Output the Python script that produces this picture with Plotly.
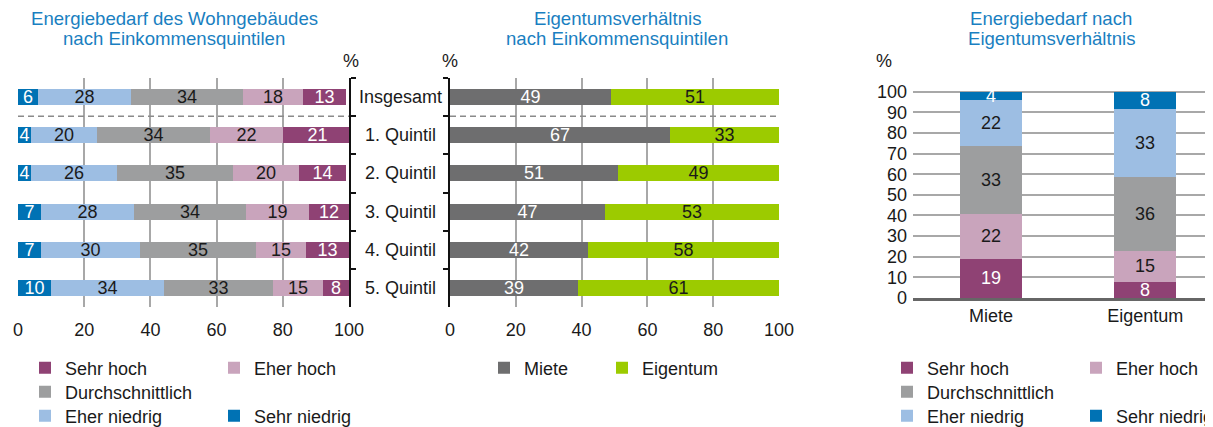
import plotly.graph_objects as go

# page has an 8px body margin, so the figure is drawn 8px in from the window edge
OFF = 8
W, H = 1213 - OFF, 427 - OFF

# ---- data ----
groups = ["Insgesamt", "1. Quintil", "2. Quintil", "3. Quintil", "4. Quintil", "5. Quintil"]
sehr_niedrig = [6, 4, 4, 7, 7, 10]
eher_niedrig = [28, 20, 26, 28, 30, 34]
durchschnitt = [34, 34, 35, 34, 35, 33]
eher_hoch = [18, 22, 20, 19, 15, 15]
sehr_hoch = [13, 21, 14, 12, 13, 8]

miete = [49, 67, 51, 47, 42, 39]
eigentum = [51, 33, 49, 53, 58, 61]

tenure = ["Miete", "Eigentum"]
t_sehr_hoch = [19, 8]
t_eher_hoch = [22, 15]
t_durchschnitt = [33, 36]
t_eher_niedrig = [22, 33]
t_sehr_niedrig = [4, 8]

x_ticks = [0, 20, 40, 60, 80, 100]
y_ticks = [0, 10, 20, 30, 40, 50, 60, 70, 80, 90, 100]

# ---- styles ----
FONT = "Liberation Sans, Arial, sans-serif"
FS = 18
TITLE_COLOR = "#1a7fc1"
COL = {
    "Sehr hoch": "#8f4274",
    "Eher hoch": "#c9a4bc",
    "Durchschnittlich": "#9d9e9f",
    "Eher niedrig": "#9dbee3",
    "Sehr niedrig": "#0072b4",
    "Miete": "#6e6e6f",
    "Eigentum": "#9ccb00",
}
TXT = {
    "Sehr hoch": "white", "Eher hoch": "#1a1a1a", "Durchschnittlich": "#1a1a1a",
    "Eher niedrig": "#1a1a1a", "Sehr niedrig": "white", "Miete": "white", "Eigentum": "#1a1a1a",
}


def px(x):
    return (x - OFF) / W


def py(y):
    return 1 - (y - OFF) / H


fig = go.Figure()

legend_defs = [
    ("legend", 25, 368), ("legend2", 214, 368), ("legend3", 25, 392), ("legend4", 25, 416), ("legend5", 214, 416),
    ("legend6", 484, 368), ("legend7", 602, 368),
    ("legend8", 887, 368), ("legend9", 1076, 368), ("legend10", 887, 392), ("legend11", 887, 416), ("legend12", 1076, 416),
]

left_series = [
    ("Sehr niedrig", sehr_niedrig, "legend5"),
    ("Eher niedrig", eher_niedrig, "legend4"),
    ("Durchschnittlich", durchschnitt, "legend3"),
    ("Eher hoch", eher_hoch, "legend2"),
    ("Sehr hoch", sehr_hoch, "legend"),
]
for name, vals, lg in left_series:
    fig.add_trace(go.Bar(
        y=groups, x=vals, orientation="h", name=name, xaxis="x", yaxis="y",
        marker=dict(color=COL[name], line=dict(width=0)), width=0.42,
        text=vals, textposition="inside", insidetextanchor="middle", textangle=0,
        constraintext="none", textfont=dict(color=TXT[name], size=FS, family=FONT),
        legend=lg, showlegend=True, hoverinfo="skip",
    ))

for name, vals, lg in [("Miete", miete, "legend6"), ("Eigentum", eigentum, "legend7")]:
    fig.add_trace(go.Bar(
        y=groups, x=vals, orientation="h", name=name, xaxis="x2", yaxis="y2",
        marker=dict(color=COL[name], line=dict(width=0)), width=0.42,
        text=vals, textposition="inside", insidetextanchor="middle", textangle=0,
        constraintext="none", textfont=dict(color=TXT[name], size=FS, family=FONT),
        legend=lg, showlegend=True, hoverinfo="skip",
    ))

right_series = [
    ("Sehr hoch", t_sehr_hoch, "legend8"),
    ("Eher hoch", t_eher_hoch, "legend9"),
    ("Durchschnittlich", t_durchschnitt, "legend10"),
    ("Eher niedrig", t_eher_niedrig, "legend11"),
    ("Sehr niedrig", t_sehr_niedrig, "legend12"),
]
for name, vals, lg in right_series:
    fig.add_trace(go.Bar(
        x=tenure, y=vals, name=name, xaxis="x3", yaxis="y3",
        marker=dict(color=COL[name], line=dict(width=0)), width=0.40,
        text=vals, textposition="inside", insidetextanchor="middle", textangle=0,
        constraintext="none", textfont=dict(color=TXT[name], size=FS, family=FONT),
        legend=lg, showlegend=True, hoverinfo="skip",
    ))

# plot areas (window pixels)
LX0, LX1 = 18, 349
MX0, MX1 = 450, 779
PY0, PY1 = 78, 307
RX0, RX1 = 913, 1213
RY_BOTTOM = 298
RY_TOP = RY_BOTTOM - 101 * (298 - 91.7) / 100

grid_col = "#a8a8a8"

layout = dict(
    width=W, height=H, margin=dict(l=0, r=0, t=0, b=0, autoexpand=False),
    paper_bgcolor="white", plot_bgcolor="white",
    barmode="stack", bargap=0,
    font=dict(family=FONT, size=FS, color="#1a1a1a"),
    xaxis=dict(domain=[px(LX0), px(LX1)], range=[0, 100], tickvals=x_ticks, showgrid=True,
               gridcolor=grid_col, gridwidth=1.5, zeroline=False, showline=False, ticks="",
               anchor="y", ticklabelstandoff=10, automargin=False),
    yaxis=dict(domain=[py(PY1), py(PY0)], type="category", categoryorder="array", categoryarray=groups,
               range=[5.5, -0.5], side="right", showline=True, linecolor="#111", linewidth=1.5,
               ticks="outside", tickson="boundaries", ticklen=5, tickcolor="#111", tickwidth=1.5,
               showticklabels=False, showgrid=False, zeroline=False, anchor="x", automargin=False),
    xaxis2=dict(domain=[px(MX0), px(MX1)], range=[0, 100], tickvals=x_ticks, showgrid=True,
                gridcolor=grid_col, gridwidth=1.5, zeroline=False, showline=False, ticks="",
                anchor="y2", ticklabelstandoff=10, automargin=False),
    yaxis2=dict(domain=[py(PY1), py(PY0)], type="category", categoryorder="array", categoryarray=groups,
                range=[5.5, -0.5], side="left", showline=True, linecolor="#111", linewidth=1.5,
                ticks="outside", tickson="boundaries", ticklen=5, tickcolor="#111", tickwidth=1.5,
                showticklabels=False, showgrid=False, zeroline=False, anchor="x2", automargin=False),
    xaxis3=dict(domain=[px(RX0), px(RX1)], type="category", categoryorder="array", categoryarray=tenure,
                range=[-0.506, 1.44], showgrid=False, showline=True, linecolor="#666", linewidth=2.5,
                ticks="", anchor="y3", ticklabelstandoff=0, automargin=False),
    yaxis3=dict(domain=[py(RY_BOTTOM), py(RY_TOP)], range=[0, 101], tickvals=y_ticks, showgrid=True,
                gridcolor=grid_col, gridwidth=1.5, zeroline=False, showline=False, ticks="",
                anchor="x3", ticklabelstandoff=5, automargin=False),
    showlegend=True,
)

for lg, lx, ly in legend_defs:
    layout[lg] = dict(x=px(lx), y=py(ly), xanchor="left", yanchor="middle", orientation="v",
                      bgcolor="rgba(0,0,0,0)", borderwidth=0, font=dict(size=FS, family=FONT, color="#1a1a1a"),
                      itemclick=False, itemdoubleclick=False, tracegroupgap=0)

fig.update_layout(**layout)

# dashed separator lines
fig.add_shape(type="line", xref="x", yref="y", x0=0, x1=100, y0=0.5, y1=0.5,
              line=dict(color="#8a8a8a", width=1.5, dash="6px,4px"))
fig.add_shape(type="line", xref="x2", yref="y2", x0=0, x1=100, y0=0.5, y1=0.5,
              line=dict(color="#8a8a8a", width=1.5, dash="6px,4px"))

# category labels between panels
for g in groups:
    fig.add_annotation(x=px(400), xref="paper", y=g, yref="y2", text=g, showarrow=False,
                       xanchor="center", yanchor="middle", font=dict(size=FS, family=FONT, color="#1a1a1a"))

# titles
titles = [
    (174, ["Energiebedarf des Wohngebäudes", "nach Einkommensquintilen"]),
    (617, ["Eigentumsverhältnis", "nach Einkommensquintilen"]),
    (1051, ["Energiebedarf nach", "Eigentumsverhältnis"]),
]
for cx, lines in titles:
    for i, t in enumerate(lines):
        fig.add_annotation(x=px(cx), y=py(18 + 21 * i), xref="paper", yref="paper", text=t, showarrow=False,
                           xanchor="center", yanchor="middle", font=dict(size=18.6, family=FONT, color=TITLE_COLOR))

# percent labels
for cx in [351, 450, 884]:
    fig.add_annotation(x=px(cx), y=py(61), xref="paper", yref="paper", text="%", showarrow=False,
                       xanchor="center", yanchor="middle", font=dict(size=FS, family=FONT, color="#1a1a1a"))

fig.write_html("out.html")
